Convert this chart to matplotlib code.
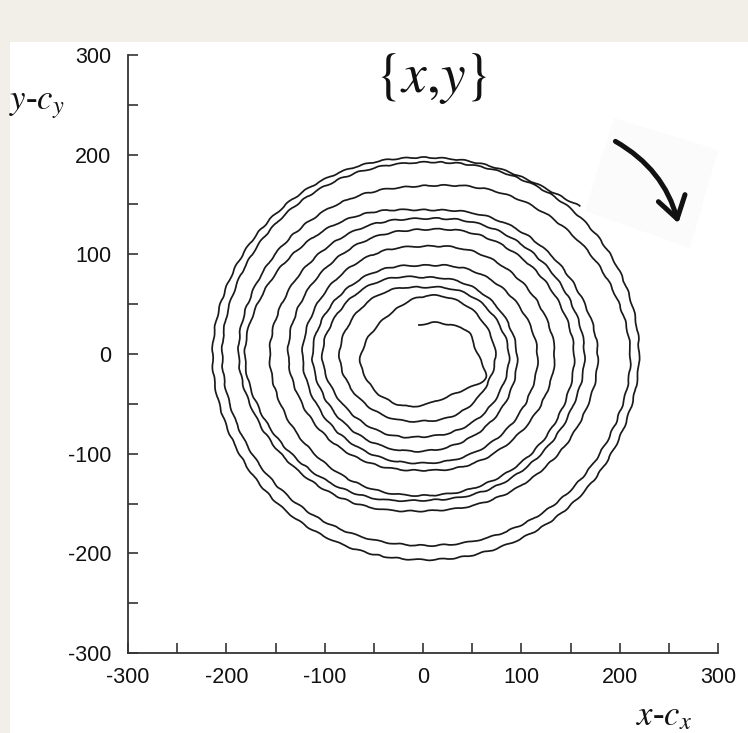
import matplotlib
matplotlib.use('Agg')
import matplotlib.pyplot as plt
from matplotlib.path import Path
from matplotlib.patches import PathPatch, Polygon, Rectangle, FancyArrowPatch

# ---------------- data ----------------
spiral_x = [
    -5, 5, 13, 30, 47, 50, 54, 60, 67, 55, 41, 20, 0, -20, -35, -48, -58, -65, -62, -58, -48, -38, -26, -14, 0, 10,
    24, 48, 66, 76, 68, 51, 27, 0, -28, -55, -77, -88, -76, -55, -28, 0,
    28, 56, 78, 90, 82, 62, 33, 0, -34, -67, -93, -106, -91, -65, -32, 0,
    31, 62, 86, 98, 91, 70, 38, 0, -40, -76, -103, -116, -101, -72, -37, 0,
    37, 74, 104, 120, 109, 82, 43, 0, -44, -84, -113, -126, -112, -83, -43, 0,
    45, 87, 121, 138, 123, 90, 47, 0, -47, -92, -125, -141, -127, -94, -50, 0,
    51, 100, 139, 158, 143, 107, 56, 0, -57, -107, -144, -160, -143, -105, -55, 0,
    56, 108, 149, 169, 151, 112, 59, 0, -60, -118, -164, -187, -163, -117, -60, 0,
    59, 116, 160, 183, 164, 121, 63, 0, -64, -124, -170, -193, -173, -128, -67, 0,
    70, 137, 190, 217, 195, 146, 77, 0, -76, -143, -190, -209, -190, -143, -76, 0,
    78, 152, 204, 225, 204, 154, 82, 0, -81, -152, -200, -219, -198, -148, -78, 0,
    80, 160,
]
spiral_y = [
    29, 31, 32, 29, 24, 14, 4, -10, -23, -31, -36, -45, -52, -53, -47, -39, -25, -9, 3, 14, 27, 37, 46, 54, 58, 59,
    58, 48, 27, 0, -28, -51, -65, -68, -67, -55, -32, 0, 32, 55, 67, 67,
    67, 56, 32, 0, -34, -62, -79, -84, -83, -67, -38, 0, 38, 65, 78, 77,
    76, 62, 36, 0, -38, -70, -91, -99, -95, -76, -43, 0, 42, 72, 88, 89,
    89, 74, 43, 0, -45, -82, -105, -111, -106, -84, -47, 0, 47, 83, 105, 109,
    107, 87, 50, 0, -51, -90, -114, -118, -114, -92, -52, 0, 53, 94, 120, 126,
    124, 100, 57, 0, -59, -107, -136, -144, -137, -107, -60, 0, 59, 105, 132, 137,
    134, 108, 62, 0, -63, -112, -142, -148, -146, -118, -68, 0, 68, 117, 144, 145,
    143, 116, 66, 0, -68, -121, -152, -159, -155, -124, -71, 0, 72, 128, 162, 170,
    168, 137, 79, 0, -81, -146, -185, -195, -183, -143, -79, 0, 79, 143, 183, 195,
    187, 150, 85, 0, -85, -154, -197, -210, -196, -152, -83, 0, 82, 148, 189, 200,
    189, 148,
]
major_ticks = [-300, -200, -100, 0, 100, 200, 300]
minor_ticks = [-250, -150, -50, 50, 150, 250]
tick_labels = ['-300', '-200', '-100', '0', '100', '200', '300']

# ---------------- figure ----------------
plt.rcParams['mathtext.fontset'] = 'stix'
W, H = 748, 733
fig = plt.figure(figsize=(W / 100, H / 100), dpi=100, facecolor='#f2efe8')
fig.patches.append(Rectangle((10 / W, 0), (W - 10) / W, (H - 42) / H, transform=fig.transFigure,
                             facecolor='white', edgecolor='none', zorder=-1))

ax = fig.add_axes([128 / W, 80 / H, 590 / W, 598 / H])
ax.set_facecolor('none')
ax.set_xlim(-300, 300)
ax.set_ylim(-300, 300)

# spiral drawn as a smooth curve through the read points, with a slight hand-drawn wiggle
pts = list(zip(spiral_x, spiral_y))
verts = [pts[0]]
codes = [Path.MOVETO]
for i in range(1, len(pts) - 1):
    mid = ((pts[i][0] + pts[i + 1][0]) / 2, (pts[i][1] + pts[i + 1][1]) / 2)
    verts += [pts[i], mid]
    codes += [Path.CURVE3, Path.CURVE3]
verts.append(pts[-1])
codes.append(Path.LINETO)
spiral = PathPatch(Path(verts, codes), facecolor='none', edgecolor='#1a1a1a', lw=1.25, zorder=2)
spiral.set_sketch_params(scale=0.6, length=22, randomness=2)
ax.add_patch(spiral)

for s in ['top', 'right']:
    ax.spines[s].set_visible(False)
for s in ['left', 'bottom']:
    ax.spines[s].set_color('#333333')
    ax.spines[s].set_linewidth(1.3)

ax.set_xticks(major_ticks)
ax.set_yticks(major_ticks)
ax.set_xticks(minor_ticks, minor=True)
ax.set_yticks(minor_ticks, minor=True)
ax.set_xticklabels(tick_labels)
ax.set_yticklabels(tick_labels)
ax.tick_params(which='both', direction='in', length=7, width=1.2, color='#333333')
ax.tick_params(axis='x', which='major', labelsize=15.5, pad=10, labelcolor='#111111')
ax.tick_params(axis='y', which='major', labelsize=15.5, pad=12, labelcolor='#111111')
for lab in ax.get_xticklabels() + ax.get_yticklabels():
    lab.set_fontfamily(['Liberation Sans', 'DejaVu Sans'])

# title and axis labels
fig.text(431 / W, 1 - 78 / H, r'$\{x{,}y\}$', fontsize=40, ha='center', va='center', color='#111111')
fig.text(9 / W, 1 - 104 / H, r'$y$-$c_y$', fontsize=25, ha='left', va='center',
         family=['Liberation Serif', 'DejaVu Serif'], color='#111111')
fig.text(664 / W, 1 - 717 / H, r'$x$-$c_x$', fontsize=25, ha='center', va='center',
         family=['Liberation Serif', 'DejaVu Serif'], color='#111111')

# pasted arrow sketch (light square with a hand-drawn arrow)
corners = [(614, 118), (718, 150), (690, 248), (585, 211)]
fig.patches.append(Polygon([(x / W, 1 - y / H) for x, y in corners], closed=True,
                           transform=fig.transFigure, facecolor='#fbfbfb', edgecolor='none', zorder=3))
fig.patches.append(FancyArrowPatch((613 / W, 1 - 140 / H), (679 / W, 1 - 226 / H),
                                   transform=fig.transFigure, connectionstyle='arc3,rad=-0.22',
                                   arrowstyle='->,head_length=0.7,head_width=0.45', mutation_scale=22,
                                   lw=3.6, color='#111111', capstyle='round', zorder=4))

fig.savefig('out.png', dpi=100, facecolor=fig.get_facecolor())
